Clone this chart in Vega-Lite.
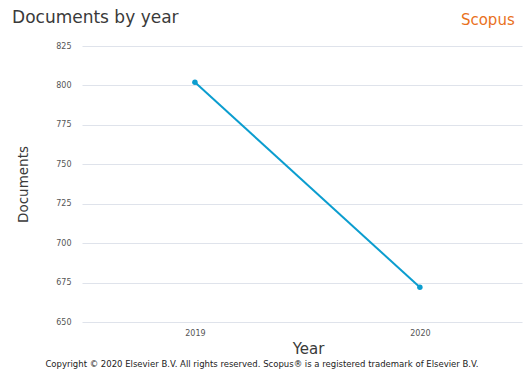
{
  "$schema": "https://vega.github.io/schema/vega-lite/v6.json",
  "width": 440,
  "height": 276,
  "autosize": "none",
  "padding": {"left": 82, "top": 46, "right": 2, "bottom": 48},
  "background": "white",
  "config": {
    "font": "DejaVu Sans",
    "view": {"stroke": null}
  },
  "data": {
    "values": [
      {"Year": 2019, "Documents": 802},
      {"Year": 2020, "Documents": 672}
    ]
  },
  "layer": [
    {
      "mark": {"type": "line", "color": "#0b9dcf", "strokeWidth": 2},
      "encoding": {
        "x": {
          "field": "Year",
          "type": "quantitative",
          "scale": {"domain": [2018.498, 2020.454], "nice": false, "zero": false},
          "axis": {"values": [2019, 2020], "format": "d", "grid": false, "domain": false, "ticks": false, "labelFontSize": 8, "labelColor": "#555555", "labelPadding": 7, "title": "Year", "titleFontSize": 15, "titleFontWeight": "normal", "titleColor": "#3a3a3a", "titlePadding": 4, "titleX": 226}
        },
        "y": {
          "field": "Documents",
          "type": "quantitative",
          "scale": {"domain": [650, 825], "nice": false, "zero": false},
          "axis": {"values": [650, 675, 700, 725, 750, 775, 800, 825], "labelOverlap": false, "grid": true, "gridColor": "#dfe3eb", "gridWidth": 1, "domain": false, "ticks": false, "labelFontSize": 8, "labelColor": "#555555", "labelPadding": 11, "title": "Documents", "titleFontSize": 13.5, "titleFontWeight": "normal", "titleColor": "#3a3a3a", "titlePadding": 25}
        }
      }
    },
    {
      "mark": {"type": "point", "filled": true, "color": "#0b9dcf", "size": 30, "opacity": 1},
      "encoding": {
        "x": {"field": "Year", "type": "quantitative",
          "axis": {"values": [2019, 2020], "format": "d", "grid": false, "domain": false, "ticks": false, "labelFontSize": 8, "labelColor": "#555555", "labelPadding": 7, "title": "Year", "titleFontSize": 15, "titleFontWeight": "normal", "titleColor": "#3a3a3a", "titlePadding": 4, "titleX": 226}},
        "y": {"field": "Documents", "type": "quantitative",
          "axis": {"values": [650, 675, 700, 725, 750, 775, 800, 825], "labelOverlap": false, "grid": true, "gridColor": "#dfe3eb", "gridWidth": 1, "domain": false, "ticks": false, "labelFontSize": 8, "labelColor": "#555555", "labelPadding": 11, "title": "Documents", "titleFontSize": 13.5, "titleFontWeight": "normal", "titleColor": "#3a3a3a", "titlePadding": 25}}
      }
    },
    {
      "data": {"values": [{"label": "Documents by year"}]},
      "mark": {"type": "text", "color": "#3a3a3a", "fontSize": 17, "align": "left", "baseline": "middle"},
      "encoding": {
        "text": {"field": "label"},
        "x": {"datum": 2018.187, "type": "quantitative",
          "axis": {"values": [2019, 2020], "format": "d", "grid": false, "domain": false, "ticks": false, "labelFontSize": 8, "labelColor": "#555555", "labelPadding": 7, "title": "Year", "titleFontSize": 15, "titleFontWeight": "normal", "titleColor": "#3a3a3a", "titlePadding": 4, "titleX": 226}},
        "y": {"datum": 842.8, "type": "quantitative",
          "axis": {"values": [650, 675, 700, 725, 750, 775, 800, 825], "labelOverlap": false, "grid": true, "gridColor": "#dfe3eb", "gridWidth": 1, "domain": false, "ticks": false, "labelFontSize": 8, "labelColor": "#555555", "labelPadding": 11, "title": "Documents", "titleFontSize": 13.5, "titleFontWeight": "normal", "titleColor": "#3a3a3a", "titlePadding": 25}}
      }
    },
    {
      "data": {"values": [{"label": "Scopus"}]},
      "mark": {"type": "text", "color": "#e9711c", "fontSize": 15, "align": "center", "baseline": "middle"},
      "encoding": {
        "text": {"field": "label"},
        "x": {"datum": 2020.302, "type": "quantitative",
          "axis": {"values": [2019, 2020], "format": "d", "grid": false, "domain": false, "ticks": false, "labelFontSize": 8, "labelColor": "#555555", "labelPadding": 7, "title": "Year", "titleFontSize": 15, "titleFontWeight": "normal", "titleColor": "#3a3a3a", "titlePadding": 4, "titleX": 226}},
        "y": {"datum": 841.5, "type": "quantitative",
          "axis": {"values": [650, 675, 700, 725, 750, 775, 800, 825], "labelOverlap": false, "grid": true, "gridColor": "#dfe3eb", "gridWidth": 1, "domain": false, "ticks": false, "labelFontSize": 8, "labelColor": "#555555", "labelPadding": 11, "title": "Documents", "titleFontSize": 13.5, "titleFontWeight": "normal", "titleColor": "#3a3a3a", "titlePadding": 25}}
      }
    },
    {
      "data": {"values": [{"label": "Copyright © 2020 Elsevier B.V. All rights reserved. Scopus® is a registered trademark of Elsevier B.V."}]},
      "mark": {"type": "text", "color": "#222222", "fontSize": 8.5, "align": "center", "baseline": "middle"},
      "encoding": {
        "text": {"field": "label"},
        "x": {"datum": 2019.298, "type": "quantitative",
          "axis": {"values": [2019, 2020], "format": "d", "grid": false, "domain": false, "ticks": false, "labelFontSize": 8, "labelColor": "#555555", "labelPadding": 7, "title": "Year", "titleFontSize": 15, "titleFontWeight": "normal", "titleColor": "#3a3a3a", "titlePadding": 4, "titleX": 226}},
        "y": {"datum": 623.4, "type": "quantitative",
          "axis": {"values": [650, 675, 700, 725, 750, 775, 800, 825], "labelOverlap": false, "grid": true, "gridColor": "#dfe3eb", "gridWidth": 1, "domain": false, "ticks": false, "labelFontSize": 8, "labelColor": "#555555", "labelPadding": 11, "title": "Documents", "titleFontSize": 13.5, "titleFontWeight": "normal", "titleColor": "#3a3a3a", "titlePadding": 25}}
      }
    }
  ]
}
